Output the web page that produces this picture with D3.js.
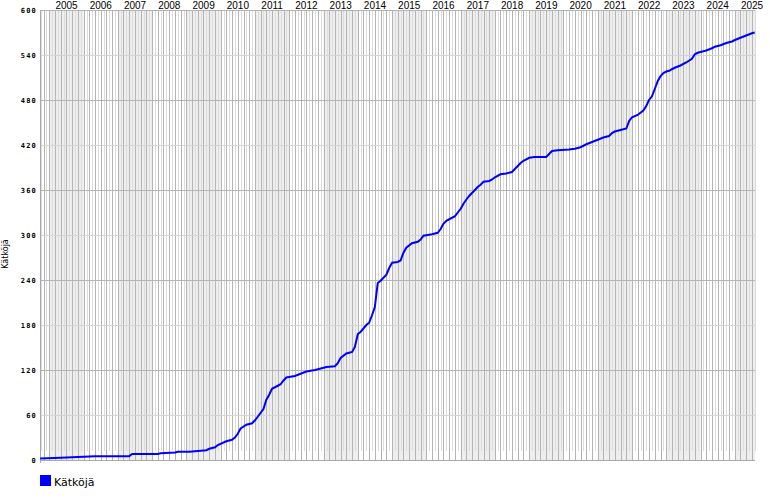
<!DOCTYPE html>
<html><head><meta charset="utf-8">
<script src="https://cdn.jsdelivr.net/npm/d3@7"></script>
<style>body{margin:0;background:#fff}svg{display:block}</style>
</head><body>
<script>
const dates = ["2004-09-25","2005-05-01","2005-11-01","2006-05-01","2007-05-01","2007-06-01","2008-03-01","2008-04-01","2008-09-01","2008-10-01","2009-02-01","2009-05-01","2009-08-01","2009-09-01","2009-11-01","2009-12-01","2010-03-01","2010-05-01","2010-06-01","2010-07-01","2010-08-01","2010-10-01","2010-12-01","2011-01-01","2011-02-01","2011-04-01","2011-05-01","2011-06-01","2011-07-01","2011-09-01","2011-10-01","2011-11-01","2011-12-01","2012-03-01","2012-05-01","2012-07-01","2012-10-01","2013-02-01","2013-05-01","2013-06-01","2013-07-01","2013-09-01","2013-11-01","2013-12-01","2014-01-01","2014-02-01","2014-04-01","2014-05-01","2014-06-01","2014-07-01","2014-08-01","2014-09-01","2014-11-01","2014-12-01","2015-01-01","2015-03-01","2015-04-01","2015-05-01","2015-06-01","2015-08-01","2015-10-01","2015-11-01","2015-12-01","2016-03-01","2016-05-01","2016-06-01","2016-07-01","2016-08-01","2016-09-01","2016-11-01","2016-12-01","2017-01-01","2017-02-01","2017-03-01","2017-04-01","2017-05-01","2017-06-01","2017-07-01","2017-08-01","2017-09-01","2017-11-01","2017-12-01","2018-01-01","2018-03-01","2018-05-01","2018-07-01","2018-08-01","2018-09-01","2018-10-01","2018-11-01","2019-01-01","2019-03-01","2019-07-01","2019-08-01","2019-09-01","2019-11-01","2020-03-01","2020-05-01","2020-07-01","2020-08-01","2020-09-01","2020-11-01","2021-01-01","2021-03-01","2021-05-01","2021-06-01","2021-07-01","2021-09-01","2021-11-01","2021-12-01","2022-01-01","2022-03-01","2022-05-01","2022-06-01","2022-07-01","2022-08-01","2022-09-01","2022-10-01","2022-11-01","2022-12-01","2023-01-01","2023-02-01","2023-03-01","2023-04-01","2023-06-01","2023-08-01","2023-10-01","2023-11-01","2023-12-01","2024-01-01","2024-03-01","2024-05-01","2024-06-01","2024-08-01","2024-10-01","2024-12-01","2025-01-01","2025-03-01","2025-05-01","2025-07-01","2025-07-31"];
const counts = [2,3,4,5,5,8,8,9,10,11,11,12,13,15,17,20,25,27,30,35,42,47,49,53,58,68,80,87,95,99,101,106,110,112,115,118,120,124,125,129,136,142,144,151,168,171,180,183,193,204,236,239,247,256,263,264,266,276,283,289,291,294,299,301,303,308,315,319,321,325,330,335,342,347,352,356,360,364,367,371,372,374,377,381,382,384,388,392,396,399,403,404,404,408,412,413,414,415,417,419,421,424,427,430,432,436,438,440,442,452,457,460,466,472,480,485,495,505,512,516,518,519,521,523,526,530,535,541,543,544,546,549,551,553,556,558,560,563,566,569,570];
const yearLabels = ["2005","2006","2007","2008","2009","2010","2011","2012","2013","2014","2015","2016","2017","2018","2019","2020","2021","2022","2023","2024","2025"];
const yTicks = [0,60,120,180,240,300,360,420,480,540,600];
const seriesName = "Kätköjä";
const axisTitle = "Kätköjä";

const W = 770, H = 500;
const L = 40, R = 755, T = 10, B = 460;
const parse = d3.timeParse("%Y-%m-%d");
const xStart = parse("2004-09-23"), xEnd = parse("2025-08-03");
const x = d3.scaleTime().domain([xStart, xEnd]).range([L, R]);
const y = d3.scaleLinear().domain([0, 600]).range([B, T]);

const svg = d3.select("body").append("svg").attr("width", W).attr("height", H);

// year bands
const g = svg.append("g");
yearLabels.forEach(yl => {
  const yr = +yl;
  const x0 = Math.max(L, x(new Date(yr, 0, 1)));
  const x1 = Math.min(R, x(new Date(yr + 1, 0, 1)));
  if (yr % 2 === 1) {
    g.append("rect").attr("x", x0).attr("y", T).attr("width", x1 - x0).attr("height", B - T).attr("fill", "#eeeeee");
  }
});

// monthly vertical gridlines
const months = d3.timeMonth.range(d3.timeMonth.ceil(xStart), xEnd);
months.forEach(m => {
  const xx = Math.round(x(m)) + 0.5;
  const dark = m.getMonth() % 2 === 0;
  g.append("line").attr("x1", xx).attr("x2", xx).attr("y1", T).attr("y2", dark ? B : B - 9)
    .attr("stroke", dark ? "#b4b4b4" : "#dcdcdc").attr("stroke-width", 1);
});

// horizontal gridlines
yTicks.forEach(v => {
  if (v === 0) return;
  const yy = Math.round(y(v)) + 0.5;
  g.append("line").attr("x1", L).attr("x2", R).attr("y1", yy).attr("y2", yy)
    .attr("stroke", (v % 120 === 0) ? "#b4b4b4" : "#d4d4d4");
});

// axes lines
svg.append("line").attr("x1", L + 0.5).attr("x2", L + 0.5).attr("y1", T).attr("y2", B + 3).attr("stroke", "#aaa");
svg.append("line").attr("x1", L).attr("x2", R).attr("y1", B + 0.5).attr("y2", B + 0.5).attr("stroke", "#aaa");

// y tick labels
svg.append("g").selectAll("text").data(yTicks).join("text")
  .attr("x", 37).attr("y", d => y(d) + 2.5)
  .attr("text-anchor", "end")
  .attr("font-family", "DejaVu Sans Mono, monospace").attr("font-size", 7).attr("font-weight", "bold")
  .attr("letter-spacing", 1.2).attr("fill", "#000")
  .text(d => d);

// year labels
svg.append("g").selectAll("text").data(yearLabels).join("text")
  .attr("x", d => (x(new Date(+d, 0, 1)) + x(new Date(+d + 1, 0, 1))) / 2)
  .attr("y", 8.5)
  .attr("text-anchor", "middle")
  .attr("font-family", "Liberation Sans, Arial, sans-serif").attr("font-size", 10).attr("fill", "#000")
  .text(d => d);

// y axis title
svg.append("text").attr("transform", "translate(8,254) rotate(-90)")
  .attr("text-anchor", "middle").attr("font-family", "DejaVu Sans, sans-serif").attr("font-size", 8)
  .text(axisTitle);

// line
const data = dates.map((d, i) => ({ date: parse(d), value: counts[i] }));
const line = d3.line().x(d => x(d.date)).y(d => y(d.value)).curve(d3.curveLinear);
svg.append("path").datum(data).attr("d", line).attr("fill", "none")
  .attr("stroke", "#0000ff").attr("stroke-width", 2).attr("stroke-linejoin", "miter");

// legend
svg.append("rect").attr("x", 40).attr("y", 475).attr("width", 11).attr("height", 11).attr("fill", "#0000ff");
svg.append("text").attr("x", 54).attr("y", 486).attr("font-family", "DejaVu Sans, sans-serif")
  .attr("font-size", 11).attr("fill", "#000").text(seriesName);
</script>
</body></html>
